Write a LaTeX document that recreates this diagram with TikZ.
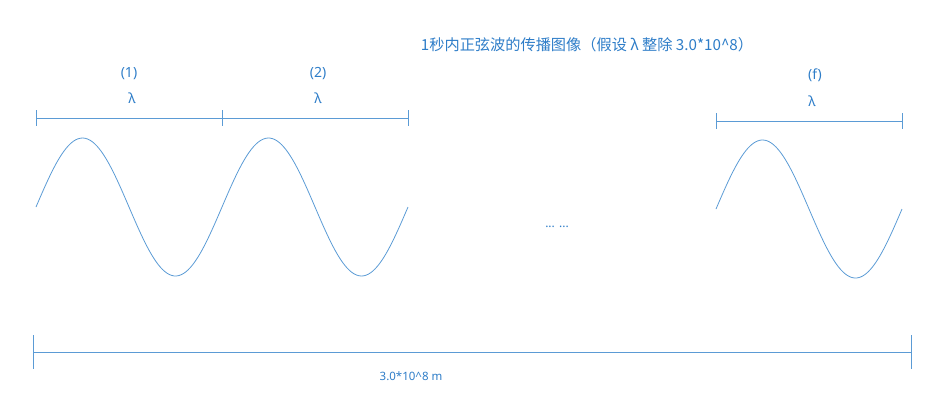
\documentclass[tikz,border=0pt]{standalone}
\usepackage{fontspec}
\setmainfont{Noto Sans}
\newfontfamily\cjk{Noto Sans CJK SC}
\definecolor{linec}{RGB}{91,155,213}
\definecolor{textc}{RGB}{46,125,200}
\begin{document}
\begin{tikzpicture}[x=1pt,y=-1pt,
  ruler/.style={draw=linec,line width=0.9pt},
  wave/.style={draw=linec,line width=0.8pt},
  lbl/.style={text=textc,font=\fontsize{14}{16}\selectfont,inner sep=0pt},
  ttl/.style={text=textc,font=\cjk\fontsize{15.2}{18}\selectfont,inner sep=0pt}]
\useasboundingbox (0,0) rectangle (936,405);
% title
\node[ttl] (title) at (587,45) {1秒内正弦波的传播图像（假设 λ 整除 3.0*10\^{}8）};
% ruler 1 & 2
\coordinate (r1a) at (36,118);
\coordinate (r1b) at (222,118);
\coordinate (r1c) at (408,118);
\draw[ruler] (r1a) -- (r1c);
\foreach \p in {r1a,r1b,r1c}{\draw[ruler] ([yshift=8pt]\p) -- ([yshift=-8pt]\p);}
\node[lbl] (n1) at (129,74) {(1)};
\node[lbl] (l1) at (132,98) {λ};
\node[lbl] (n2) at (318,74) {(2)};
\node[lbl] (l2) at (318,98) {λ};
% ruler f
\coordinate (rfa) at (716,121);
\coordinate (rfb) at (902,121);
\draw[ruler] (rfa) -- (rfb);
\foreach \p in {rfa,rfb}{\draw[ruler] ([yshift=8pt]\p) -- ([yshift=-8pt]\p);}
\node[lbl] (nf) at (815,75) {(f)};
\node[lbl] (lf) at (812,101) {λ};
% waves
\draw[wave] plot[domain=0:372,samples=160,smooth] ({\x+36},{207-69*sin(\x/186*360)});
\draw[wave] plot[domain=0:186,samples=100,smooth] ({\x+716},{209-69*sin(\x/186*360)});
% dots
\node[lbl,font=\fontsize{12}{14}\selectfont] (dots) at (557,227) {... ...};
% bottom ruler
\coordinate (ba) at (33,352);
\coordinate (bb) at (911,352);
\draw[ruler] (ba) -- (bb);
\foreach \p in {ba,bb}{\draw[ruler] ([yshift=17pt]\p) -- ([yshift=-17pt]\p);}
\node[lbl,font=\fontsize{11.5}{13}\selectfont] (total) at (411,376) {3.0*10\^{}8 m};
\end{tikzpicture}
\end{document}
